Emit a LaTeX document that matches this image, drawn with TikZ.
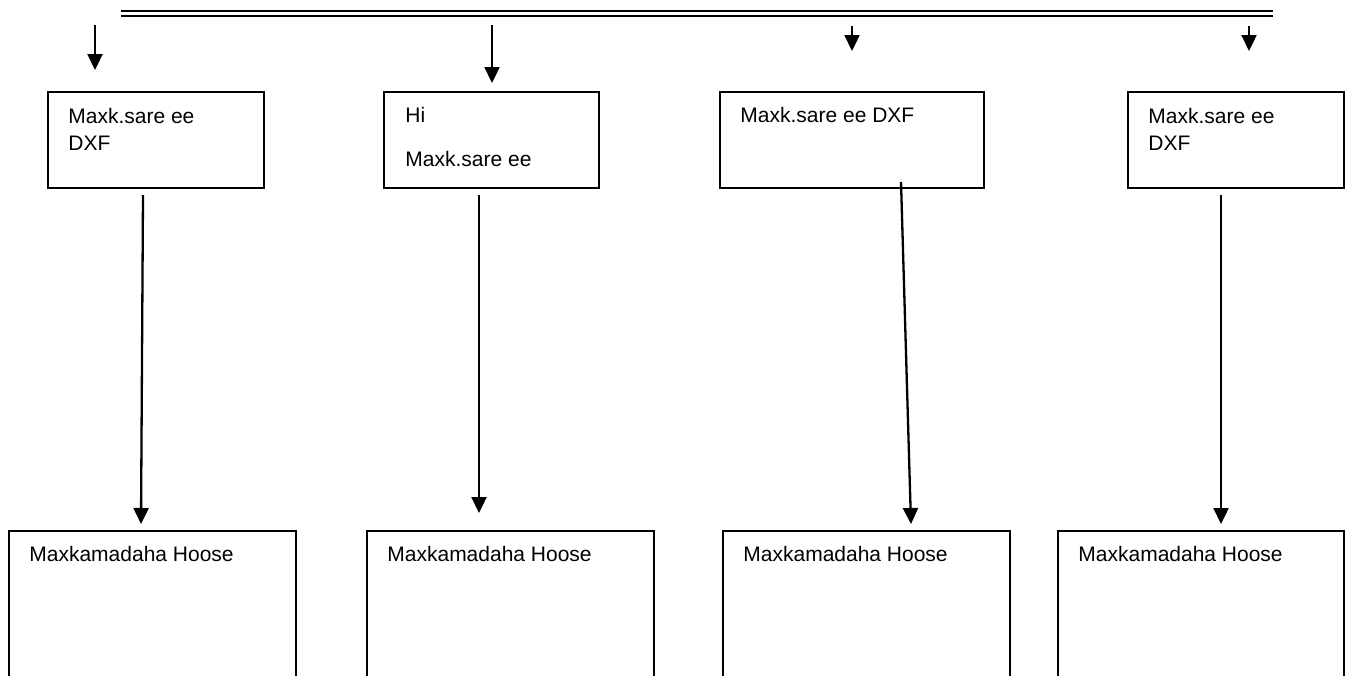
\documentclass[tikz,border=0pt]{standalone}
\usepackage{fontspec}
\setmainfont{Liberation Sans}
\usetikzlibrary{arrows.meta}
\begin{document}
\begin{tikzpicture}[x=0.5pt,y=-0.5pt,
  box/.style={draw,line width=1.15pt,anchor=north west,inner sep=0pt},
  txt/.style={anchor=base west,inner sep=0pt,font=\fontsize{10.5pt}{12pt}\selectfont},
  arr/.style={line width=1.15pt,-{Triangle[length=8pt,width=7.5pt]}},
  rule/.style={line width=1.3pt}]
\clip (0,0) rectangle (1353,675);
\fill[white] (0,0) rectangle (1353,675);
% top double rule
\coordinate (r1a) at (121,11);
\coordinate (r1b) at (1273,11);
\coordinate (r2a) at (121,16);
\coordinate (r2b) at (1273,16);
\draw[rule] (r1a) -- (r1b);
\draw[rule,line width=1.1pt] (r2a) -- (r2b);
% top boxes
\node[box,minimum width=108pt,minimum height=48pt] (b1) at (47,91) {};
\node[box,minimum width=107.5pt,minimum height=48pt] (b2) at (383,91) {};
\node[box,minimum width=132pt,minimum height=48pt] (b3) at (719,91) {};
\node[box,minimum width=108pt,minimum height=48pt] (b4) at (1127,91) {};
% top box texts
\node[txt] (t1a) at (68,123) {Maxk.sare ee};
\node[txt] (t1b) at (68,150) {DXF};
\node[txt] (t2a) at (405,122) {Hi};
\node[txt] (t2b) at (405,166) {Maxk.sare ee};
\node[txt] (t3a) at (740,122) {Maxk.sare ee DXF};
\node[txt] (t4a) at (1148,123) {Maxk.sare ee};
\node[txt] (t4b) at (1148,150) {DXF};
% bottom boxes (run off the page)
\node[box,minimum width=143.5pt,minimum height=85pt] (c1) at (8,530) {};
\node[box,minimum width=143.5pt,minimum height=85pt] (c2) at (366,530) {};
\node[box,minimum width=143.5pt,minimum height=85pt] (c3) at (722,530) {};
\node[box,minimum width=143pt,minimum height=85pt] (c4) at (1057,530) {};
\node[txt] (u1) at (29,561) {Maxkamadaha Hoose};
\node[txt] (u2) at (387,561) {Maxkamadaha Hoose};
\node[txt] (u3) at (743,561) {Maxkamadaha Hoose};
\node[txt] (u4) at (1078,561) {Maxkamadaha Hoose};
% top free arrows
\coordinate (p1) at (95,25);   \coordinate (q1) at (95,70);
\coordinate (p2) at (492,25);  \coordinate (q2) at (492,83);
\coordinate (p3) at (852,26);  \coordinate (q3) at (852,51);
\coordinate (p4) at (1249,26); \coordinate (q4) at (1249,51);
\draw[arr] (p1) -- (q1);
\draw[arr] (p2) -- (q2);
\draw[arr] (p3) -- (q3);
\draw[arr] (p4) -- (q4);
% connectors between boxes
\coordinate (s1) at (143,195);  \coordinate (e1) at (141,524);
\coordinate (s2) at (479,195);  \coordinate (e2) at (479,513);
\coordinate (s3) at (901,182);  \coordinate (e3) at (911,524);
\coordinate (s4) at (1221,195); \coordinate (e4) at (1221,524);
\draw[arr] (s1) -- (e1);
\draw[arr] (s2) -- (e2);
\draw[arr] (s3) -- (e3);
\draw[arr] (s4) -- (e4);
\end{tikzpicture}
\end{document}
